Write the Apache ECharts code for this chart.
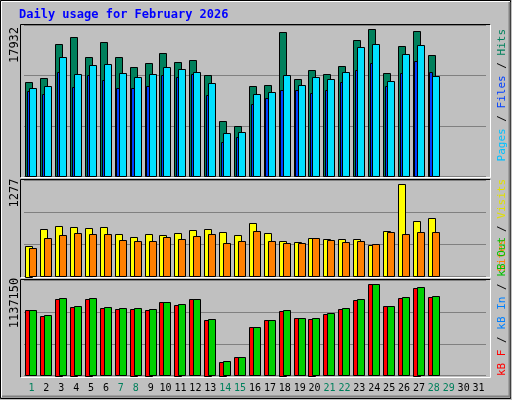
<!DOCTYPE html><html><head><meta charset="utf-8">
<script src="https://cdn.jsdelivr.net/npm/echarts@6/dist/echarts.min.js"></script>
<style>html,body{margin:0;padding:0;background:#c0c0c0}#c{width:512px;height:400px}</style></head><body><div id="c"></div>
<script>
const days=[];for(let i=1;i<=31;i++)days.push(String(i));
const weekend=[1,7,8,14,15,21,22,28,29];
const hits=[11481,11968,16106,16958,14524,16350,14524,13307,13794,15011,13915,14159,12333,6735,6126,10994,11116,17567,11846,12942,12455,13429,16593,17932,12577,15863,17689,14767];
const files=[10751,10994,14524,12455,13550,13672,12577,12090,12455,13307,13063,12699,11360,5274,5396,10021,10264,12333,11116,12090,11846,12699,15741,16106,11603,14889,15985,12212];
const pages=[10386,10021,12699,10873,12333,11725,10751,10751,10994,12333,12090,12455,9899,4179,4787,8804,9534,10508,10508,10143,10508,11481,12942,13794,10994,12577,14037,12699];
const visits=[424,655,696,682,668,682,585,544,585,572,599,641,655,613,572,738,599,489,475,530,516,516,516,433,627,1277,765,807];
const sites=[392,530,572,599,585,585,502,489,489,544,516,558,585,461,489,627,489,461,461,530,502,475,489,447,613,585,613,613];
const kbOut=[813000,751000,963000,863000,963000,851000,838000,838000,826000,913000,888000,950000,701000,178000,228000,602000,689000,813000,714000,714000,776000,838000,950000,1137150,863000,975000,1100000,988000];
const kbF=[813000,740000,952000,855000,952000,838000,826000,830000,818000,913000,880000,950000,695000,170000,228000,602000,689000,805000,714000,706000,764000,826000,938000,1137150,863000,963000,1090000,976000];
const maxLabels=['17932','1277','1137150'];
const axisMax=[18460,1332,1186950];
const F='DejaVu Sans Mono';
const chart=echarts.init(document.getElementById('c'));
const grids=[{left:24,width:462,top:25,height:151.7},{left:24,width:462,top:180.3,height:96.4},{left:24,width:462,top:280.3,height:95.4}];
function ser(gi,data,color,o0,o1,z){
  return {type:'custom',xAxisIndex:gi,yAxisIndex:gi,z:z,data:data.map((v,i)=>[i,v]),
    renderItem:function(p,api){const c=api.coord([api.value(0),api.value(1)]);const b=api.coord([api.value(0),0]);
      const w=api.size([1,0])[0];const l=c[0]-w/2;
      return {type:'rect',shape:{x:Math.round(l+o0)+0.5,y:Math.round(c[1])+0.5,width:Math.round(o1-o0),height:Math.round(b[1]-c[1])},
        style:{fill:color,stroke:'#000',lineWidth:1}};}};
}
const xAxes=grids.map((g,i)=>({type:'category',gridIndex:i,data:days,axisLine:{show:false},axisTick:{show:false},
  axisLabel:i<2?{show:false}:{interval:0,fontFamily:F,fontSize:10,margin:8,color:(v)=>weekend.includes(+v)?'#00805c':'#000'}}));
const yAxes=grids.map((g,i)=>({type:'value',gridIndex:i,min:0,max:axisMax[i],interval:axisMax[i]/3,axisLabel:{show:false},
  axisLine:{show:false},axisTick:{show:false},splitLine:{lineStyle:{color:'#808080',width:1}}}));
function vtext(x,y,align,parts){return {type:'text',x:x,y:y,rotation:Math.PI/2,style:{text:parts,rich:rich,font:'11px '+F,textAlign:align,textVerticalAlign:'middle'}};}
const fs=11;
const rich={h:{fill:'#00805c',fontFamily:F,fontSize:fs},f:{fill:'#0040ff',fontFamily:F,fontSize:fs},p:{fill:'#00c0ff',fontFamily:F,fontSize:fs},
  s:{fill:'#000',fontFamily:F,fontSize:fs},v:{fill:'#e0e000',fontFamily:F,fontSize:fs},o:{fill:'#ff8000',fontFamily:F,fontSize:fs},
  r:{fill:'#ff0000',fontFamily:F,fontSize:fs},b:{fill:'#0080ff',fontFamily:F,fontSize:fs},g:{fill:'#00c000',fontFamily:F,fontSize:fs}};
const graphic=[
 {type:'rect',shape:{x:0.5,y:0.5,width:510,height:398},style:{fill:'none',stroke:'#000',lineWidth:1}},
 {type:'polyline',shape:{points:[[1.5,397],[1.5,1.5],[510,1.5]]},style:{stroke:'#fff',lineWidth:1}},
 {type:'polyline',shape:{points:[[2,396.5],[509.5,396.5],[509.5,2]]},style:{stroke:'#808080',lineWidth:2}},
 {type:'text',x:19,y:15,style:{text:'Daily usage for February 2026',font:'bold 12px '+F,fill:'#0000ff',textVerticalAlign:'middle'}},
];
[[24.5,177.5],[179.5,277.5],[279.5,377.5]].forEach(([t,b])=>{
 graphic.push({type:'polyline',shape:{points:[[20.5,b],[20.5,t],[490.5,t]]},style:{stroke:'#000',lineWidth:1}});
 graphic.push({type:'polyline',shape:{points:[[20.5,b],[490.5,b],[490.5,t]]},style:{stroke:'#fff',lineWidth:1}});
});
[[15,45],[15,193],[15,303]].forEach(([x,y],i)=>graphic.push({type:'text',x:x,y:y,rotation:Math.PI/2,style:{text:maxLabels[i],font:'12px '+F,fill:'#000',textAlign:'center',textVerticalAlign:'middle'}}));
graphic.push(vtext(502,29,'right','{p|Pages}{s| / }{f|Files}{s| / }{h|Hits}'));
graphic.push(vtext(502,179,'right','{o|Sites}{s| / }{v|Visits}'));
graphic.push(vtext(502,376,'left','{r|kB F}{s| / }{b|kB In}{s| / }{g|kB Out}'));
chart.setOption({animation:false,backgroundColor:'#c0c0c0',grid:grids,xAxis:xAxes,yAxis:yAxes,graphic:graphic,
 series:[ser(0,hits,'#00805c',1.3,8.7,1),ser(0,pages,'#0040ff',3,6,2),ser(0,files,'#00e0ff',5.3,12.7,3),
  ser(1,visits,'#ffff00',1.3,8.7,1),ser(1,sites,'#ff8000',5.3,12.7,2),
  ser(2,kbF,'#ff0000',1.3,8.7,1),ser(2,kbOut,'#00d000',5.3,12.7,2)]});
</script></body></html>
